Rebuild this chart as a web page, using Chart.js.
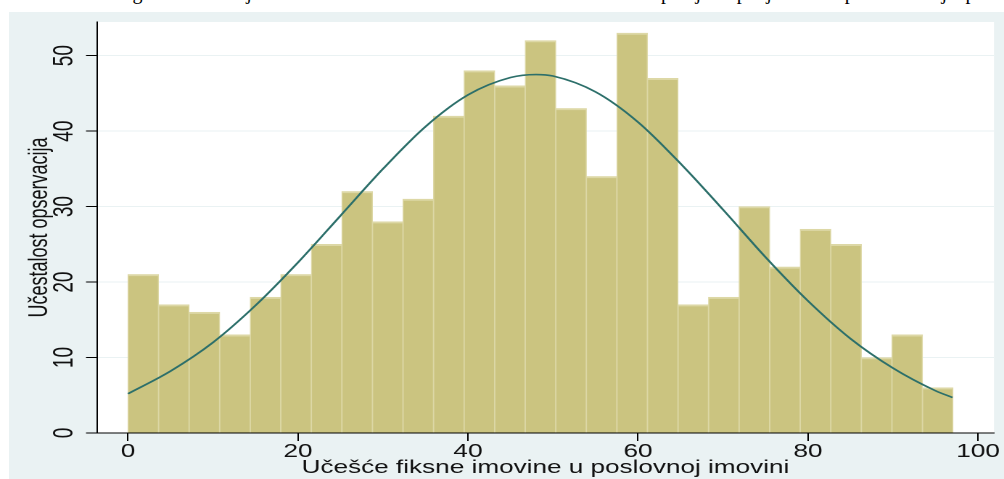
<!DOCTYPE html>
<html>
<head>
<meta charset="utf-8">
<script src="https://cdn.jsdelivr.net/npm/chart.js@4"></script>
<style>
  html, body { margin: 0; padding: 0; background: #fff; }
  #wrap { position: relative; width: 1004px; height: 479px; overflow: hidden; }
  #frame { position: absolute; left: 9px; top: 12px; right: 0; bottom: 0; background: #eaf2f3; }
  #caption { position: absolute; left: 2px; top: -18px; white-space: nowrap;
             font: 20px/20px "Liberation Serif", "Times New Roman", serif; color: #000; letter-spacing: 1.5px; }
  #c { position: absolute; left: 0; top: 0; transform: scaleX(1.45087); transform-origin: 0 0; }
</style>
</head>
<body>
<div id="wrap">
  <div id="caption">Slika 2. Histogram materijalnosti fiksne imovine i kriva normalne raspodjele po jedinici posmatranja preduzeća</div>
  <div id="frame"></div>
  <canvas id="c" width="692" height="479"></canvas>
</div>
<script>
// histogram bins (midpoints) and counts
const binMids = [1.797, 5.392, 8.987, 12.582, 16.177, 19.771, 23.366, 26.961, 30.556, 34.151,
                 37.745, 41.340, 44.935, 48.530, 52.125, 55.719, 59.314, 62.909, 66.504, 70.099,
                 73.693, 77.288, 80.883, 84.478, 88.073, 91.667, 95.262];
const counts = [21, 17, 16, 13, 18, 21, 25, 32, 28, 31, 42, 48, 46, 52, 43, 34, 53, 47, 17, 18,
                30, 22, 27, 25, 10, 13, 6];

// normal curve
const curveX = [0, 5, 10, 15, 20, 25, 30, 35, 40, 45, 48, 50, 55, 60, 65, 70, 75, 80, 85, 90, 95, 97];
const curveY = [5.2, 8.2, 12.0, 16.9, 22.6, 28.8, 35.0, 40.6, 44.8, 47.1, 47.5, 47.3, 45.2, 41.2,
                35.7, 29.6, 23.3, 17.5, 12.5, 8.6, 5.6, 4.7];

const xTicks = [0, 20, 40, 60, 80, 100];
const yTicks = [0, 10, 20, 30, 40, 50];

const xTitle = 'Učešće fiksne imovine u poslovnoj imovini';
const yTitle = 'Učestalost opservacija';

Chart.defaults.font.family = '"Liberation Sans", Arial, sans-serif';
Chart.defaults.color = '#111';

// white plot region
const plotBg = {
    id: 'plotBg',
    beforeDraw(chart) {
        const a = chart.chartArea, ctx = chart.ctx;
        ctx.save();
        ctx.fillStyle = '#fff';
        ctx.fillRect(a.left, a.top, a.right - a.left, a.bottom - a.top);
        ctx.restore();
    }
};

// y tick labels, rotated like the original
const yTickLabels = {
    id: 'yTickLabels',
    afterDraw(chart) {
        const y = chart.scales.y, ctx = chart.ctx;
        ctx.save();
        ctx.font = '19px "Liberation Sans", Arial, sans-serif';
        ctx.fillStyle = '#111';
        ctx.textAlign = 'center';
        ctx.textBaseline = 'middle';
        y.ticks.forEach(t => {
            ctx.save();
            ctx.translate(44.8, y.getPixelForValue(t.value));
            ctx.rotate(-Math.PI / 2);
            ctx.fillText(String(t.value), 0, 0);
            ctx.restore();
        });
        ctx.restore();
    }
};

new Chart(document.getElementById('c'), {
    type: 'bar',
    data: {
        datasets: [{
            type: 'line',
            data: curveX.map((x, i) => ({ x, y: curveY[i] })),
            borderColor: '#2c6f6a',
            borderWidth: 1.6,
            pointRadius: 0,
            cubicInterpolationMode: 'monotone',
            fill: false,
            order: 0
        }, {
            type: 'bar',
            data: binMids.map((x, i) => ({ x, y: counts[i] })),
            backgroundColor: '#cbc480',
            borderColor: '#ddd8a6',
            borderWidth: { top: 2, left: 0.8, right: 0.8, bottom: 0 },
            borderSkipped: false,
            barPercentage: 1,
            categoryPercentage: 1,
            order: 1
        }]
    },
    options: {
        responsive: false,
        animation: false,
        devicePixelRatio: 2,
        layout: { padding: { left: 0, right: 6.9, top: 22, bottom: 0 } },
        plugins: { legend: { display: false }, tooltip: { enabled: false } },
        scales: {
            x: {
                type: 'linear',
                min: -3.646,
                max: 101.88,
                offset: false,
                afterBuildTicks: s => { s.ticks = xTicks.map(v => ({ value: v })); },
                afterFit: s => { s.height = 46; },
                grid: { offset: false, drawOnChartArea: false, tickLength: 8, tickColor: '#000' },
                border: { color: '#000', width: 1, z: 1 },
                ticks: { autoSkip: false, maxRotation: 0, padding: 0, font: { size: 18 }, color: '#111' },
                title: { display: true, text: xTitle, font: { size: 18 }, padding: { top: 0, bottom: 0 }, color: '#111' }
            },
            y: {
                min: 0,
                max: 54.46,
                afterBuildTicks: s => { s.ticks = yTicks.map(v => ({ value: v })); },
                afterFit: s => { s.width = 66.86; },
                grid: { color: '#eaf2f3', tickLength: 7.6, tickColor: '#000' },
                border: { color: '#000', width: 1 },
                ticks: { display: false },
                title: { display: true, text: yTitle, font: { size: 18 }, padding: { top: 16.8, bottom: 0 }, color: '#111' }
            }
        }
    },
    plugins: [plotBg, yTickLabels]
});
</script>
</body>
</html>
